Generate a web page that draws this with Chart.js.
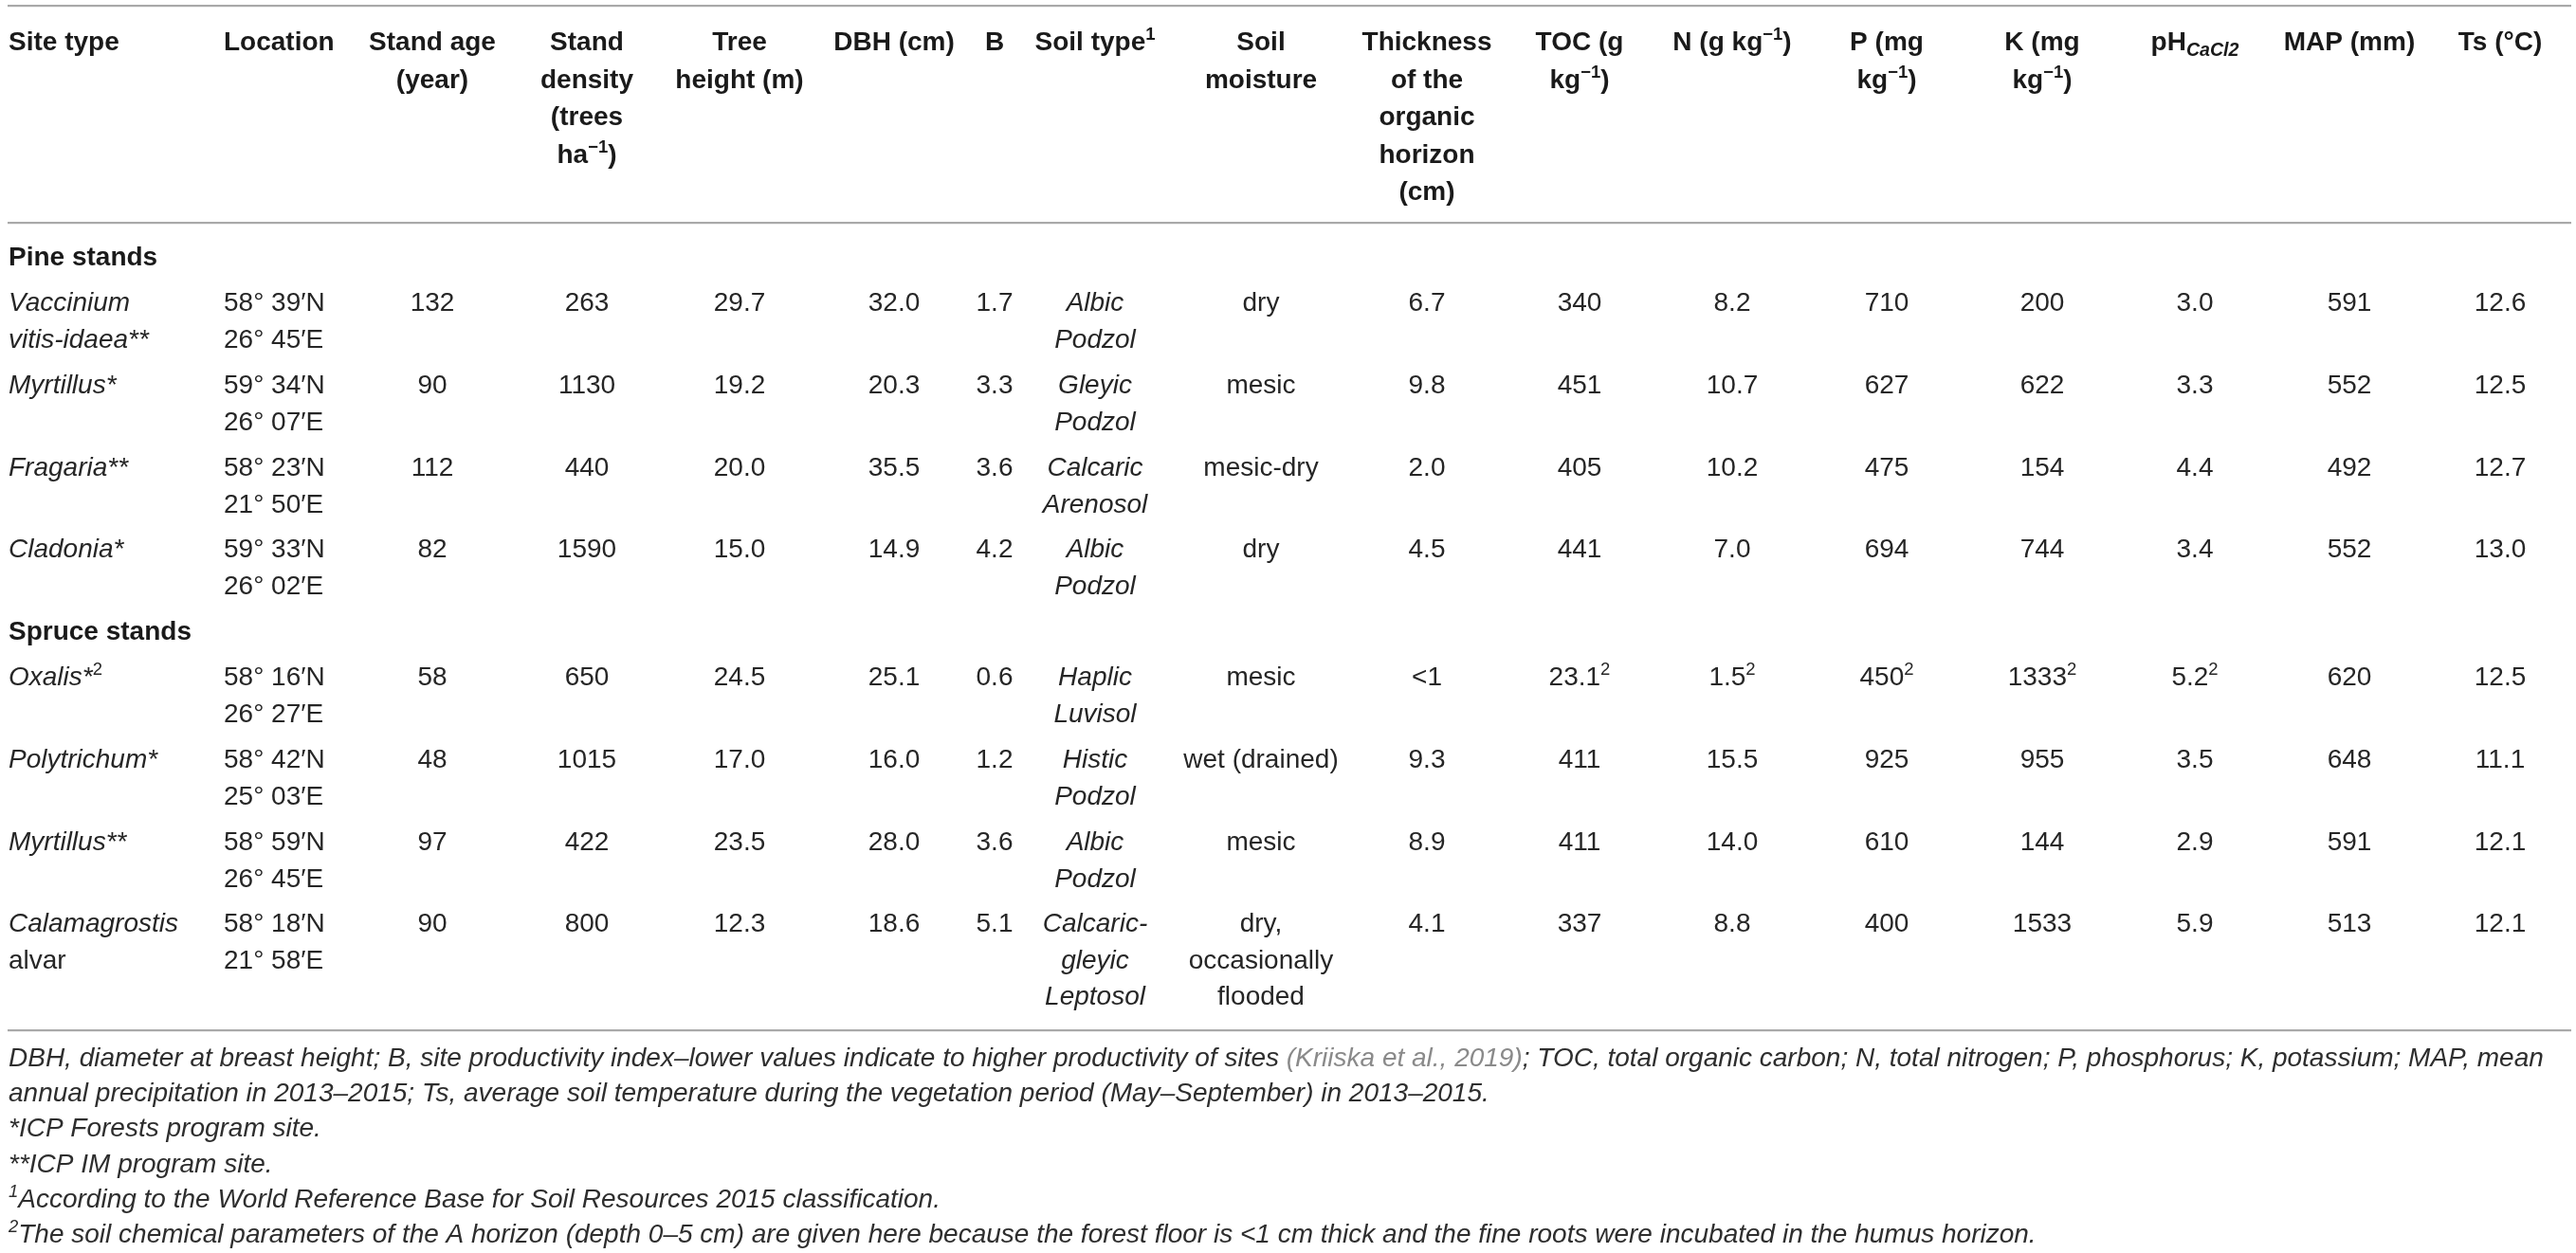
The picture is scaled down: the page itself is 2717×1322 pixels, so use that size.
<!DOCTYPE html>
<html>
<head>
<meta charset="utf-8">
<title>Site characteristics of the studied stands</title>
<script src="https://cdn.jsdelivr.net/npm/chart.js@4.4.1/dist/chart.umd.min.js"></script>
<style>
  html, body { margin: 0; padding: 0; background: #fff; overflow: hidden; }
  #wrap { position: relative; width: 2717px; height: 1322px; }
</style>
</head>
<body>
<div id="wrap"><canvas id="tableChart"></canvas></div>
<script>
// Markup used in the strings: ~{..} italic, ^{..} superscript, _{..} italic subscript, @{..} link colour

// ---- column headers (one entry per printed line) ----
const headers = [
    ['Site type'],
    ['Location'],
    ['Stand age', '(year)'],
    ['Stand', 'density', '(trees', 'ha^{\u22121})'],
    ['Tree', 'height (m)'],
    ['DBH (cm)'],
    ['B'],
    ['Soil type^{1}'],
    ['Soil', 'moisture'],
    ['Thickness', 'of the', 'organic', 'horizon', '(cm)'],
    ['TOC (g', 'kg^{\u22121})'],
    ['N (g kg^{\u22121})'],
    ['P (mg', 'kg^{\u22121})'],
    ['K (mg', 'kg^{\u22121})'],
    ['pH_{CaCl2}'],
    ['MAP (mm)'],
    ['Ts (\u00b0C)']
];

// ---- stand groups ----
const groups = ['Pine stands', 'Spruce stands'];

// ---- body values, one array per column, eight sites ----
const siteType = [
    ['~{Vaccinium}', '~{vitis-idaea**}'],
    '~{Myrtillus*}',
    '~{Fragaria**}',
    '~{Cladonia*}',
    '~{Oxalis*}^{2}',
    '~{Polytrichum*}',
    '~{Myrtillus**}',
    ['~{Calamagrostis}', 'alvar']
];
const siteLocation = [
    ['58\u00b0 39\u2032N', '26\u00b0 45\u2032E'],
    ['59\u00b0 34\u2032N', '26\u00b0 07\u2032E'],
    ['58\u00b0 23\u2032N', '21\u00b0 50\u2032E'],
    ['59\u00b0 33\u2032N', '26\u00b0 02\u2032E'],
    ['58\u00b0 16\u2032N', '26\u00b0 27\u2032E'],
    ['58\u00b0 42\u2032N', '25\u00b0 03\u2032E'],
    ['58\u00b0 59\u2032N', '26\u00b0 45\u2032E'],
    ['58\u00b0 18\u2032N', '21\u00b0 58\u2032E']
];
const standAge = ['132', '90', '112', '82', '58', '48', '97', '90'];
const standDensity = ['263', '1130', '440', '1590', '650', '1015', '422', '800'];
const treeHeight = ['29.7', '19.2', '20.0', '15.0', '24.5', '17.0', '23.5', '12.3'];
const dbh = ['32.0', '20.3', '35.5', '14.9', '25.1', '16.0', '28.0', '18.6'];
const productivityB = ['1.7', '3.3', '3.6', '4.2', '0.6', '1.2', '3.6', '5.1'];
const soilType = [
    ['Albic', 'Podzol'],
    ['Gleyic', 'Podzol'],
    ['Calcaric', 'Arenosol'],
    ['Albic', 'Podzol'],
    ['Haplic', 'Luvisol'],
    ['Histic', 'Podzol'],
    ['Albic', 'Podzol'],
    ['Calcaric-', 'gleyic', 'Leptosol']
];
const soilMoisture = ['dry', 'mesic', 'mesic-dry', 'dry', 'mesic', 'wet (drained)', 'mesic',
    ['dry,', 'occasionally', 'flooded']];
const organicThickness = ['6.7', '9.8', '2.0', '4.5', '<1', '9.3', '8.9', '4.1'];
const toc = ['340', '451', '405', '441', '23.1^{2}', '411', '411', '337'];
const nitrogen = ['8.2', '10.7', '10.2', '7.0', '1.5^{2}', '15.5', '14.0', '8.8'];
const phosphorus = ['710', '627', '475', '694', '450^{2}', '925', '610', '400'];
const potassium = ['200', '622', '154', '744', '1333^{2}', '955', '144', '1533'];
const phCaCl2 = ['3.0', '3.3', '4.4', '3.4', '5.2^{2}', '3.5', '2.9', '5.9'];
const precipitation = ['591', '552', '492', '552', '620', '648', '591', '513'];
const soilTemp = ['12.6', '12.5', '12.7', '13.0', '12.5', '11.1', '12.1', '12.1'];

// ---- footnotes ----
const footnotes = [
    'DBH, diameter at breast height; B, site productivity index\u2013lower values indicate to higher productivity of sites @{(Kriiska et al., 2019)}; TOC, total organic carbon; N, total nitrogen; P, phosphorus; K, potassium; MAP, mean',
    'annual precipitation in 2013\u20132015; Ts, average soil temperature during the vegetation period (May\u2013September) in 2013\u20132015.',
    '*ICP Forests program site.',
    '**ICP IM program site.',
    '^{1}According to the World Reference Base for Soil Resources 2015 classification.',
    '^{2}The soil chemical parameters of the A horizon (depth 0\u20135 cm) are given here because the forest floor is <1 cm thick and the fine roots were incubated in the humus horizon.'
];

const columns = [siteType, siteLocation, standAge, standDensity, treeHeight, dbh, productivityB,
    soilType, soilMoisture, organicThickness, toc, nitrogen, phosphorus, potassium,
    phCaCl2, precipitation, soilTemp];

// ---- layout (page units = pixels of the 2717 x 1322 page) ----
const PAGE_W = 2717, PAGE_H = 1322;
const colX = [9, 236, 456, 619, 780, 943, 1049, 1155, 1330, 1505, 1666, 1827, 1990, 2154, 2315, 2478, 2637];
const colAlign = ['left', 'left', 'center', 'center', 'center', 'center', 'center', 'center', 'center',
    'center', 'center', 'center', 'center', 'center', 'center', 'center', 'center'];
const colItalic = [false, false, false, false, false, false, false, true, false,
    false, false, false, false, false, false, false, false];
const ruleY = [6, 235, 1087];
const headerY0 = 43, headerGap = 39.5;
const groupY = [270, 665];
const rowY = [318, 405, 492, 578, 713, 800, 887, 973];
const lineGap = 38.5;
const footY0 = 1115, footGap = 37.2, footX = 9, footMaxW = 2706;

const FAMILY = '"Liberation Sans", Arial, Helvetica, sans-serif';
const FONT_SIZE = 28;
const HEADER_COLOR = '#1a1a1a';
const BODY_COLOR = '#262626';
const FOOT_COLOR = '#2e2e2e';
const LINK_COLOR = '#8a8a8a';
const RULE_COLOR = '#a9a9a9';

function parseRuns(str) {
    const runs = [];
    const re = /([~^_@])\{([^}]*)\}/g;
    let last = 0, m;
    while ((m = re.exec(str)) !== null) {
        if (m.index > last) runs.push({ text: str.slice(last, m.index), kind: 'plain' });
        const kind = { '~': 'italic', '^': 'sup', '_': 'sub', '@': 'link' }[m[1]];
        runs.push({ text: m[2], kind: kind });
        last = re.lastIndex;
    }
    if (last < str.length) runs.push({ text: str.slice(last), kind: 'plain' });
    return runs;
}

function runFont(run, o) {
    let size = o.size, italic = o.italic, shift = 0;
    if (run.kind === 'italic') italic = true;
    if (run.kind === 'sup') { size = o.size * 0.66; shift = -o.size * 0.38; }
    if (run.kind === 'sub') { size = o.size * 0.7; shift = o.size * 0.2; italic = true; }
    return {
        font: (italic ? 'italic ' : '') + (o.bold ? 'bold ' : '') + size + 'px ' + FAMILY,
        shift: shift,
        color: run.kind === 'link' ? LINK_COLOR : o.color
    };
}

// draw one line of marked-up text, centred vertically on y
function drawRich(ctx, str, x, y, align, o) {
    const runs = parseRuns(str).map(r => {
        const f = runFont(r, o);
        ctx.font = f.font;
        return Object.assign({}, r, f, { w: ctx.measureText(r.text).width });
    });
    const total = runs.reduce((s, r) => s + r.w, 0);
    let k = 1;
    if (o.maxWidth && total > o.maxWidth) k = o.maxWidth / total;
    let start = x;
    if (align === 'center') start = x - total * k / 2;
    else if (align === 'right') start = x - total * k;
    const baseline = y + o.size * 0.36;
    ctx.save();
    ctx.translate(start, 0);
    ctx.scale(k, 1);
    let cx = 0;
    runs.forEach(r => {
        ctx.font = r.font;
        ctx.fillStyle = r.color;
        ctx.fillText(r.text, cx, baseline + r.shift);
        cx += r.w;
    });
    ctx.restore();
}

const tablePlugin = {
    id: 'tableText',
    beforeDraw(chart) {
        const c = chart.ctx;
        c.save();
        c.fillStyle = '#ffffff';
        c.fillRect(0, 0, chart.width, chart.height);
        c.restore();
    },
    afterDraw(chart) {
        const c = chart.ctx;
        const xs = chart.scales.x, ys = chart.scales.y;
        const px = v => xs.getPixelForValue(v);
        const py = v => ys.getPixelForValue(v);
        c.save();
        c.textBaseline = 'alphabetic';
        c.textAlign = 'left';

        // horizontal rules
        c.fillStyle = RULE_COLOR;
        ruleY.forEach(v => c.fillRect(px(8), py(v) - 1, px(2712) - px(8), 2.2));

        // header
        headers.forEach((lines, ci) => {
            lines.forEach((line, li) => {
                drawRich(c, line, px(colX[ci]), py(headerY0 + li * headerGap), colAlign[ci],
                    { size: FONT_SIZE, bold: true, italic: false, color: HEADER_COLOR });
            });
        });

        // group labels
        groups.forEach((g, gi) => {
            drawRich(c, g, px(colX[0]), py(groupY[gi]), 'left',
                { size: FONT_SIZE, bold: true, italic: false, color: HEADER_COLOR });
        });

        // body cells
        rowY.forEach((y0, ri) => {
            columns.forEach((col, ci) => {
                const cell = col[ri];
                const lines = Array.isArray(cell) ? cell : [cell];
                lines.forEach((line, li) => {
                    drawRich(c, line, px(colX[ci]), py(y0 + li * lineGap), colAlign[ci],
                        { size: FONT_SIZE, bold: false, italic: colItalic[ci], color: BODY_COLOR });
                });
            });
        });

        // footnotes
        footnotes.forEach((f, fi) => {
            drawRich(c, f, px(footX), py(footY0 + fi * footGap), 'left',
                { size: FONT_SIZE, bold: false, italic: true, color: FOOT_COLOR,
                  maxWidth: px(footMaxW) - px(0) });
        });
        c.restore();
    }
};

new Chart(document.getElementById('tableChart').getContext('2d'), {
    type: 'scatter',
    data: { datasets: [{ data: [], pointRadius: 0 }] },
    options: {
        responsive: true,
        maintainAspectRatio: false,
        animation: false,
        events: [],
        layout: { padding: 0 },
        plugins: {
            legend: { display: false },
            tooltip: { enabled: false }
        },
        scales: {
            x: { type: 'linear', display: false, min: 0, max: PAGE_W },
            y: { type: 'linear', display: false, min: 0, max: PAGE_H, reverse: true }
        }
    },
    plugins: [tablePlugin]
});
</script>
</body>
</html>
